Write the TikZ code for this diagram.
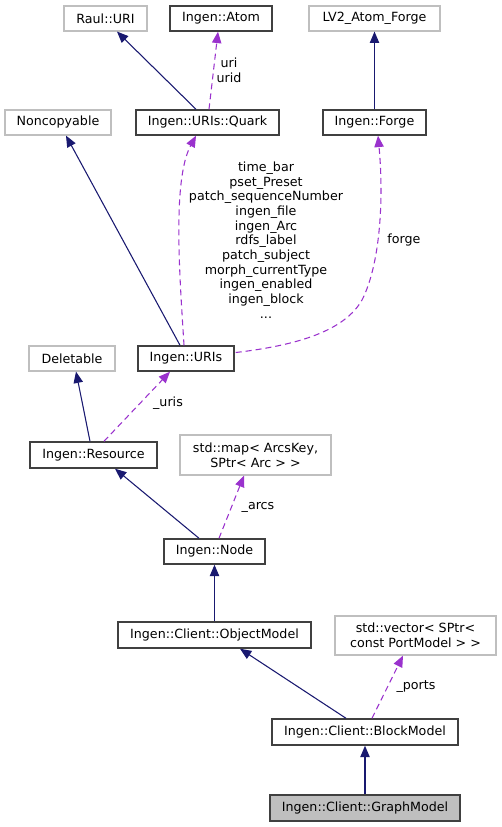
\documentclass[tikz,border=0pt]{standalone}
\usepackage{fontspec}
\setmainfont{DejaVu Sans}
\usetikzlibrary{arrows.meta,calc}
\definecolor{edgeblue}{HTML}{191970}
\definecolor{edgeviolet}{HTML}{9A32CD}
\definecolor{docborder}{HTML}{404040}
\definecolor{extborder}{HTML}{BFBFBF}
\tikzset{
  box/.style={draw=docborder, line width=1.1pt, inner sep=0pt, align=center, font=\fontsize{9.5}{11}\selectfont},
  extbox/.style={box, draw=extborder, line width=0.9pt},
  sz/.style 2 args={minimum width=#1*0.75pt, minimum height=#2*0.75pt},
  inherit/.style={draw=edgeblue, line width=0.8pt, -{Triangle[length=8.5pt,width=7pt]}},
  uses/.style={draw=edgeviolet, line width=0.8pt, dash pattern=on 4.5pt off 3pt, -{Triangle[length=8.5pt,width=7pt]}},
  elabel/.style={font=\fontsize{9.5}{11}\selectfont, align=center, inner sep=0pt}
}
\begin{document}
\begin{tikzpicture}[x=0.75pt,y=-0.75pt]
\useasboundingbox (0,0) rectangle (501,827);
% nodes
\node[extbox, sz={83}{25}] (rauluri) at (105.5,18.5) {Raul::URI};
\node[box, sz={102}{25}] (atom) at (221,18.5) {Ingen::Atom};
\node[extbox, sz={131}{25}] (lv2) at (374.5,18.5) {LV2\_Atom\_Forge};
\node[extbox, sz={106}{25}] (noncopy) at (58,122.5) {Noncopyable};
\node[box, sz={143}{25}] (quark) at (207.5,122.5) {Ingen::URIs::Quark};
\node[box, sz={103}{25}] (forge) at (374.5,122.5) {Ingen::Forge};
\node[extbox, sz={86}{25}] (deletable) at (72,358.5) {Deletable};
\node[box, sz={96}{25}] (uris) at (186,358.5) {Ingen::URIs};
\node[box, sz={127}{26}] (resource) at (93.5,455) {Ingen::Resource};
\node[extbox, sz={151}{40}] (map) at (255.5,455) {std::map< ArcsKey,\\ SPtr< Arc > >};
\node[box, sz={101}{25}] (node) at (214.5,551.5) {Ingen::Node};
\node[box, sz={193}{26}] (objmodel) at (214.5,635) {Ingen::Client::ObjectModel};
\node[extbox, sz={161}{39}] (vector) at (415.5,635.5) {std::vector< SPtr<\\ const PortModel > >};
\node[box, sz={186}{26}] (block) at (365,732) {Ingen::Client::BlockModel};
\node[box, fill=extborder, sz={190}{26}] (graph) at (365,808) {Ingen::Client::GraphModel};
% edges
\draw[inherit] ($(quark.north)+(-11.5,0)$) -- ($(rauluri.south)+(11.5,0)$);
\draw[uses] ($(quark.north)+(1.5,0)$) -- ($(atom.south)+(-3,0)$);
\node[elabel] (lbluri) at (229,70) {uri\\urid};
\draw[inherit] (forge.north) -- (lv2.south);
\draw[inherit] ($(uris.north)+(-6,0)$) -- ($(noncopy.south)+(8,0)$);
\draw[uses] ($(uris.north)+(-2,0)$) .. controls (180,280) and (172,180) .. ($(quark.south)+(-11.5,0)$);
\node[elabel] (lblquark) at (266,240) {time\_bar\\pset\_Preset\\patch\_sequenceNumber\\ingen\_file\\ingen\_Arc\\rdfs\_label\\patch\_subject\\morph\_currentType\\ingen\_enabled\\ingen\_block\\...};
\draw[uses] ($(uris.east)+(1,-6)$) .. controls (300,345) and (345,330) .. (362,300) .. controls (380,265) and (384,200) .. ($(forge.south)+(3.5,0)$);
\node[elabel] (lblforge) at (404,240) {forge};
\draw[inherit] ($(resource.north)+(-3.5,0)$) -- ($(deletable.south)+(4,0)$);
\draw[uses] ($(resource.north)+(10.5,0)$) -- ($(uris.south)+(-16,0)$);
\node[elabel] (lbluris) at (168,403) {\_uris};
\draw[inherit] ($(node.north)+(-15.5,0)$) -- ($(resource.south)+(21.5,0)$);
\draw[uses] ($(node.north)+(4.5,0)$) -- ($(map.south)+(-11.5,0)$);
\node[elabel] (lblarcs) at (258,507) {\_arcs};
\draw[inherit] (objmodel.north) -- (node.south);
\draw[inherit] ($(block.north)+(-19,0)$) -- ($(objmodel.south)+(25.5,0)$);
\draw[uses] ($(block.north)+(7,0)$) -- ($(vector.south)+(-12.5,0)$);
\node[elabel] (lblports) at (416,687) {\_ports};
\draw[inherit] (graph.north) -- (block.south);
\end{tikzpicture}
\end{document}
